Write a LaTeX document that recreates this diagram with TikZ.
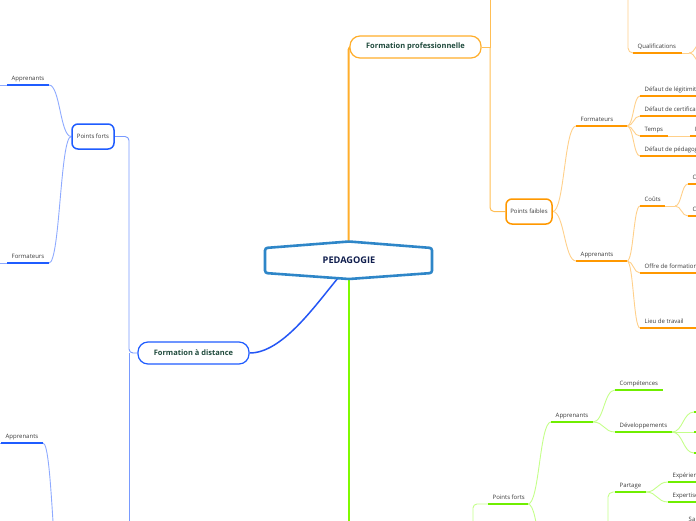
\documentclass[tikz,border=0pt]{standalone}
\usepackage{fontspec}
\setmainfont{Open Sans}
\usetikzlibrary{calc,backgrounds}
\definecolor{pedblue}{HTML}{2E86C8}
\definecolor{pedtxt}{HTML}{0F1D4D}
\definecolor{toptxt}{HTML}{1F4A3C}
\definecolor{lbltxt}{HTML}{3A3A3A}
\definecolor{omain}{HTML}{FFAE2B}
\definecolor{odark}{HTML}{FF9800}
\definecolor{olt}{HTML}{FFD08A}
\definecolor{bmain}{HTML}{2456F5}
\definecolor{bdark}{HTML}{1F5CFF}
\definecolor{blt}{HTML}{8EAAFF}
\definecolor{gmain}{HTML}{80FA00}
\definecolor{gdark}{HTML}{6FEE00}
\definecolor{glt}{HTML}{C4FF8A}
\tikzset{
  lbl/.style={inner sep=0pt, anchor=base west, font=\fontsize{6}{7}\selectfont, text=lbltxt},
  oul/.style={draw=odark, line width=1.6pt},
  bul/.style={draw=bdark, line width=1.6pt},
  gul/.style={draw=gdark, line width=1.6pt},
  olight/.style={draw=olt, line width=0.9pt},
  blight/.style={draw=blt, line width=0.9pt},
  glight/.style={draw=glt, line width=0.9pt},
  topic/.style={draw, fill=white, rounded corners=10pt, line width=1.2pt, minimum height=22pt,
    inner sep=0pt, font=\bfseries\fontsize{7.5}{9}\selectfont, text=toptxt},
  subtopic/.style={draw, fill=white, rounded corners=6pt, line width=1.5pt, minimum height=25pt,
    inner sep=0pt, font=\fontsize{6}{7}\selectfont, text=lbltxt}
}
\newcommand\mmleaf[6]{%
  \coordinate (#1L) at (#2,#4);
  \coordinate (#1R) at (#3,#4);
  \node[lbl] (#1) at ($(#1L)+(4.5,-5)$) {#5};
  \draw[#6] (#1L) -- (#1R);
}
\newcommand\mmlink[3][]{%
  \draw[#1] let \p1=(#2), \p2=(#3) in (\p1) .. controls ({(\x1+\x2)/2},\y1) and ({(\x1+\x2)/2},\y2) .. (\p2);
}
\begin{document}
\begin{tikzpicture}[x=1pt,y=-1pt]
\useasboundingbox (0,0) rectangle (696,520);
% ---------- central node
\draw[line width=2.6pt, draw=pedblue, fill=white, rounded corners=2.5pt]
  (265,248) -- (349,241.5) -- (432,248) -- (432,273) -- (349,279) -- (265,273) -- cycle;
\node[font=\bfseries\fontsize{9.2}{11}\selectfont, text=pedtxt] (ped) at (349,260.5) {PEDAGOGIE};
\coordinate (pedtop) at (348.5,243);
\coordinate (pedbot) at (349,277);
\coordinate (pedbl) at (338,278);
% ---------- topics
\node[topic, draw=omain, minimum width=131pt] (fp) at (415.5,47) {Formation professionnelle};
\node[topic, draw=bdark, minimum width=111pt] (fad) at (193.5,353) {Formation à distance};
\node[subtopic, draw=bdark, minimum width=42pt] (pfb) at (93,136.5) {Points forts};
\node[subtopic, draw=odark, minimum width=46pt] (pfo) at (529,211.5) {Points faibles};
% ---------- blue leaves
\mmleaf{bA}{7}{49}{85}{Apprenants}{bul}
\mmleaf{bF}{7}{49}{263}{Formateurs}{bul}
\mmleaf{bB}{1}{43}{443}{Apprenants}{bul}
% ---------- orange leaves
\mmleaf{oF}{576}{627}{126}{Formateurs}{oul}
\mmleaf{oLeg}{640}{700}{96}{Défaut de légitimité}{oul}
\mmleaf{oCert}{640}{700}{116}{Défaut de certification}{oul}
\mmleaf{oTemps}{640}{668}{136}{Temps}{oul}
\mmleaf{oTi}{690}{700}{136}{I}{oul}
\mmleaf{oPed}{640}{700}{156}{Défaut de pédagogie}{oul}
\mmleaf{oA}{576}{627}{261}{Apprenants}{oul}
\mmleaf{oCo}{640}{665}{206}{Coûts}{oul}
\mmleaf{oCa}{688}{700}{184}{C}{oul}
\mmleaf{oCb}{688}{700}{216}{C}{oul}
\mmleaf{oOf}{640}{700}{273}{Offre de formation}{oul}
\mmleaf{oLi}{640}{700}{328}{Lieu de travail}{oul}
\mmleaf{oQ}{633}{682}{53}{Qualifications}{oul}
% ---------- green leaves
\mmleaf{gPF}{488}{528}{504}{Points forts}{gul}
\mmleaf{gA}{551}{593}{422}{Apprenants}{gul}
\mmleaf{gC}{615}{663}{390}{Compétences}{gul}
\mmleaf{gD}{615}{672}{432}{Développements}{gul}
\mmleaf{gP}{615}{646}{492}{Partage}{gul}
\mmleaf{gEa}{668}{700}{482}{Expériences}{gul}
\mmleaf{gEb}{668}{700}{502}{Expertise}{gul}
\node[lbl] (gSa) at (688.5,521.8) {Sa};
\coordinate (gDa) at (694,412); \coordinate (gDaR) at (702,412);
\coordinate (gDb) at (694,432); \coordinate (gDbR) at (702,432);
\coordinate (gDc) at (694,453); \coordinate (gDcR) at (702,453);
\draw[gul] (gDa) -- (gDaR);
\draw[gul] (gDb) -- (gDbR);
\draw[gul] (gDc) -- (gDcR);
% ---------- helper coordinates
\coordinate (fpj) at (490,47);
\coordinate (fpup) at (490,-10);
\coordinate (oCoj) at (675,206);
\coordinate (oqtop) at (628,-10);
\coordinate (oQj) at (689,53);
\coordinate (oqa) at (703,41);
\coordinate (oqb) at (703,65);
\coordinate (bj) at (129,353);
\coordinate (bdown) at (129,530);
\coordinate (bAw) at (-10,85);
\coordinate (bFw) at (-10,263);
\coordinate (bBw) at (-10,443);
\coordinate (bBpar) at (63,600);
\coordinate (gdown) at (349,530);
\coordinate (gpfin) at (473,530);
\coordinate (gdn) at (551,586);
\coordinate (gpin) at (608,530);
% ---------- connectors
\begin{pgfonlayer}{background}
\draw[draw=omain, line width=2pt, rounded corners=3pt] (pedtop) |- (fp.west);
\draw[draw=bmain, line width=1.5pt] (pedbl) .. controls (314,307) and (282,353) .. (fad.east);
\draw[draw=gmain, line width=2.2pt] (pedbot) -- (gdown);
% orange
\draw[draw=omain!80, line width=1pt] (fp.east) -- (fpj) -- (fpup);
\draw[draw=omain!80, line width=1pt, rounded corners=4pt] (fpj) |- (pfo.west);
\mmlink[olight]{pfo.east}{oFL}
\mmlink[olight]{pfo.east}{oAL}
\mmlink[olight]{oFR}{oLegL}
\mmlink[olight]{oFR}{oCertL}
\mmlink[olight]{oFR}{oTempsL}
\mmlink[olight]{oFR}{oPedL}
\draw[olight] (oTempsR) -- (oTiL);
\mmlink[olight]{oAR}{oCoL}
\mmlink[olight]{oAR}{oOfL}
\mmlink[olight]{oAR}{oLiL}
\draw[olight] (oCoR) -- (oCoj);
\mmlink[olight]{oCoj}{oCaL}
\mmlink[olight]{oCoj}{oCbL}
\draw[olight, rounded corners=5pt] (oqtop) |- (oQL);
\draw[olight] (oQR) -- (oQj);
\mmlink[olight]{oQj}{oqa}
\mmlink[olight]{oQj}{oqb}
% blue
\draw[draw=blt!80!bdark, line width=0.9pt, rounded corners=4pt] (fad.west) -- (bj) |- (pfb.east);
\draw[draw=blt!80!bdark, line width=0.9pt] (bj) -- (bdown);
\mmlink[blight]{pfb.west}{bAR}
\mmlink[blight]{pfb.west}{bFR}
\draw[blight] (bAL) -- (bAw);
\draw[blight] (bFL) -- (bFw);
\draw[blight] (bBL) -- (bBw);
\mmlink[blight]{bBR}{bBpar}
% green
\draw[glight, rounded corners=4pt] (gpfin) |- (gPFL);
\mmlink[glight]{gPFR}{gAL}
\mmlink[glight]{gPFR}{gdn}
\mmlink[glight]{gAR}{gCL}
\mmlink[glight]{gAR}{gDL}
\mmlink[glight]{gDR}{gDa}
\mmlink[glight]{gDR}{gDb}
\mmlink[glight]{gDR}{gDc}
\draw[glight, rounded corners=5pt] (gpin) |- (gPL);
\mmlink[glight]{gPR}{gEaL}
\mmlink[glight]{gPR}{gEbL}
\end{pgfonlayer}
\end{tikzpicture}
\end{document}
